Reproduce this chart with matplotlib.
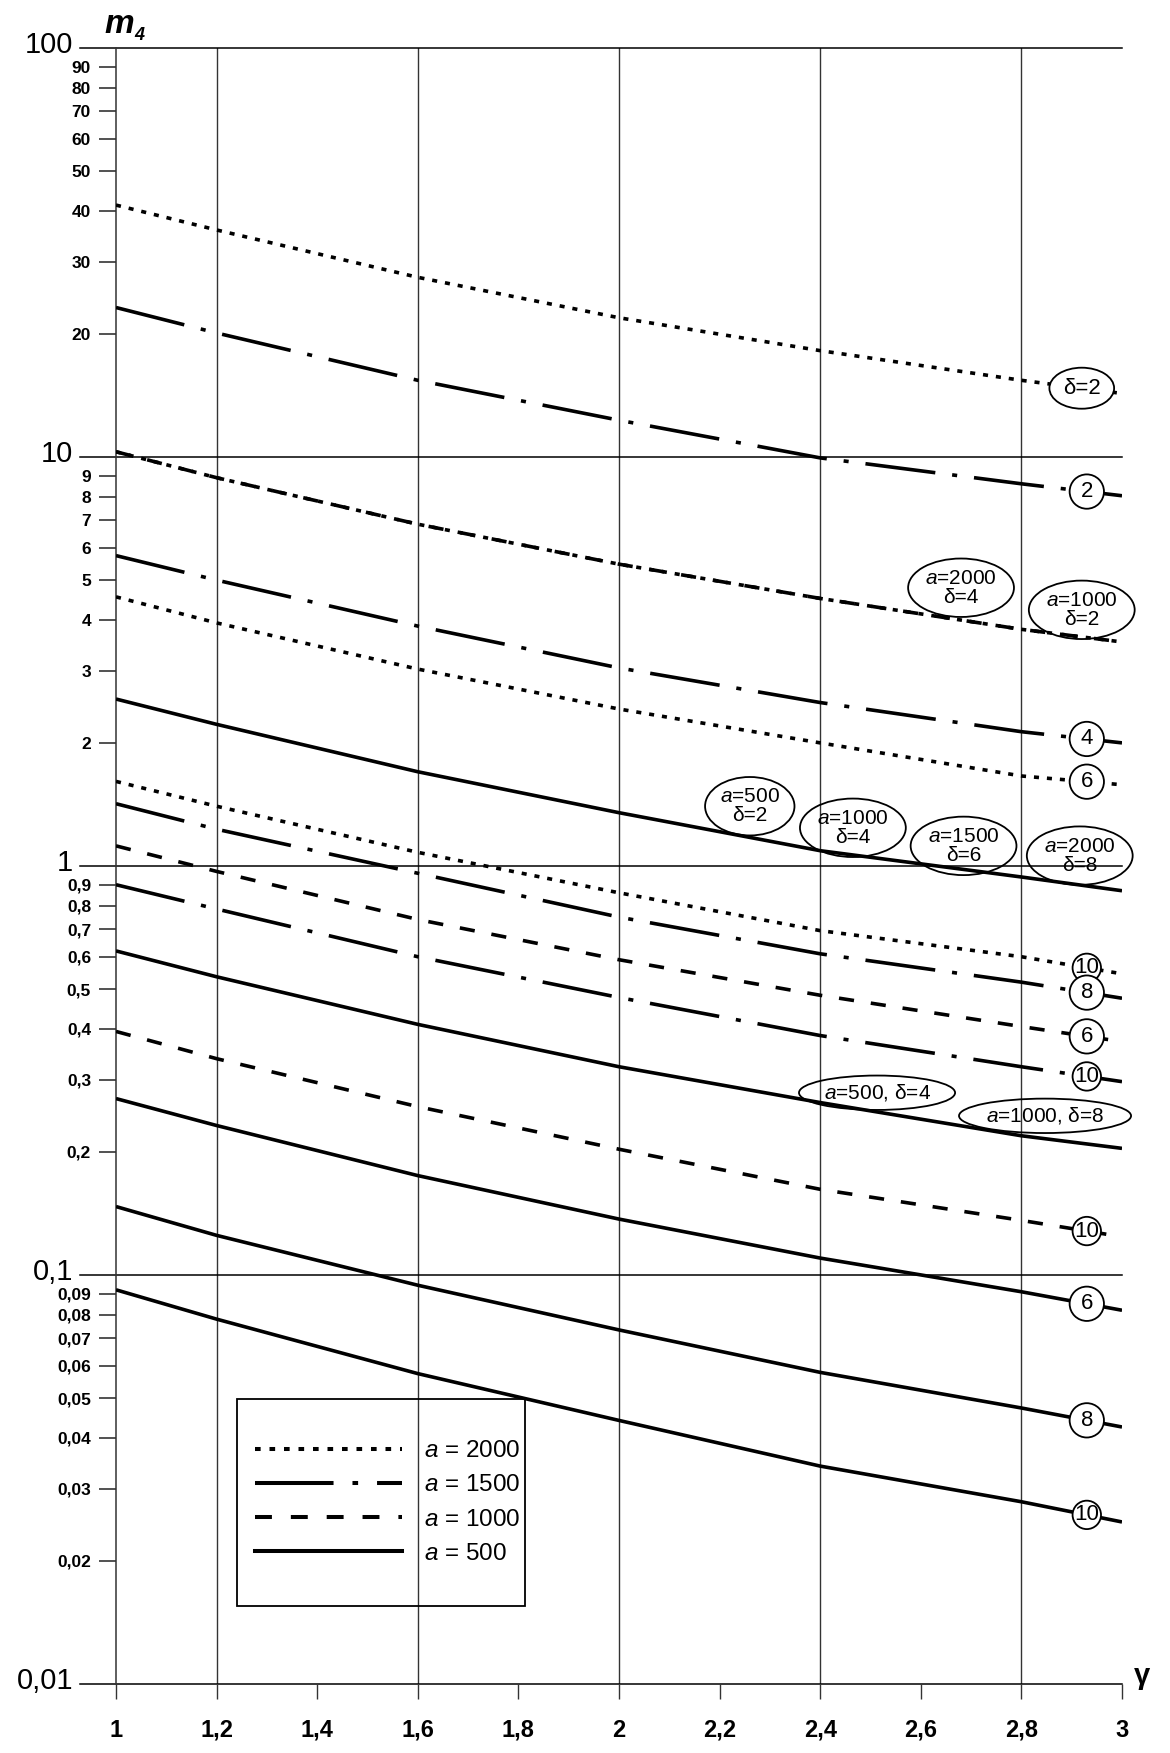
import numpy as np
import matplotlib
matplotlib.use("Agg")
import matplotlib.pyplot as plt
import matplotlib.transforms as mtransforms
from matplotlib.lines import Line2D
from matplotlib.patches import Rectangle
from matplotlib.ticker import FixedLocator, FixedFormatter

plt.rcParams['font.family'] = ['Liberation Sans', 'DejaVu Sans']
plt.rcParams['mathtext.fontset'] = 'custom'
plt.rcParams['mathtext.rm'] = 'Liberation Sans'
plt.rcParams['mathtext.it'] = 'Liberation Sans:italic'
plt.rcParams['mathtext.bf'] = 'Liberation Sans:bold'

# gamma values where the curves were read
gamma = [1.0, 1.2, 1.6, 2.0, 2.4, 2.8, 3.0]

# m4 values
m4_a2000_d2 = [41.3, 35.9, 27.5, 21.9, 18.2, 15.4, 14.3]
m4_a1500_d2 = [23.2, 20.1, 15.4, 12.3, 9.95, 8.6, 8.04]
m4_a2000_d4 = [10.3, 8.9, 6.85, 5.47, 4.51, 3.79, 3.53]      # same curve as a=1000, d=2
m4_a1500_d4 = [5.74, 5.0, 3.86, 3.05, 2.51, 2.13, 2.0]
m4_a2000_d6 = [4.55, 3.93, 3.03, 2.42, 2.0, 1.66, 1.58]
m4_a500_d2 = [2.56, 2.22, 1.70, 1.35, 1.09, 0.94, 0.87]      # = a1000 d4 = a1500 d6 = a2000 d8
m4_a2000_d10 = [1.61, 1.40, 1.08, 0.86, 0.695, 0.60, 0.545]
m4_a1500_d8 = [1.42, 1.23, 0.96, 0.75, 0.61, 0.52, 0.475]
m4_a1000_d6 = [1.12, 0.97, 0.74, 0.59, 0.483, 0.405, 0.372]
m4_a1500_d10 = [0.90, 0.785, 0.60, 0.477, 0.385, 0.323, 0.297]
m4_a500_d4 = [0.62, 0.536, 0.41, 0.323, 0.264, 0.219, 0.204]  # = a1000 d8
m4_a1000_d10 = [0.394, 0.338, 0.258, 0.203, 0.162, 0.136, 0.124]
m4_a500_d6 = [0.27, 0.232, 0.175, 0.137, 0.11, 0.091, 0.082]
m4_a500_d8 = [0.147, 0.125, 0.0944, 0.0734, 0.0578, 0.0473, 0.0425]
m4_a500_d10 = [0.092, 0.078, 0.0574, 0.0441, 0.0341, 0.0279, 0.0249]

x_ticks = [1.0, 1.2, 1.4, 1.6, 1.8, 2.0, 2.2, 2.4, 2.6, 2.8, 3.0]
x_labels = ['1', '1,2', '1,4', '1,6', '1,8', '2', '2,2', '2,4', '2,6', '2,8', '3']
x_grid = [1.2, 1.6, 2.0, 2.4, 2.8]
decades = [0.01, 0.1, 1, 10, 100]
decade_labels = ['0,01', '0,1', '1', '10', '100']
minor_vals = [k * d for d in [0.01, 0.1, 1, 10] for k in range(2, 10)]
minor_labels = ['0,0%d' % k for k in range(2, 10)] + ['0,%d' % k for k in range(2, 10)] + \
               ['%d' % k for k in range(2, 10)] + ['%d' % (10 * k) for k in range(2, 10)]

a_values = [2000, 1500, 1000, 500]

# line style per a
LW = 2.6
styles = {
    2000: (0, (1.4, 2.2)),
    1500: (0, (19.5, 4.7, 1.4, 4.7)),
    1000: (0, (4.2, 4.7)),
    500: '-',
}

# curves: data, list of a values drawn on it
curves = [
    (m4_a2000_d2, [2000]),
    (m4_a1500_d2, [1500]),
    (m4_a2000_d4, [2000, 1000]),
    (m4_a1500_d4, [1500]),
    (m4_a2000_d6, [2000]),
    (m4_a500_d2, [500]),
    (m4_a2000_d10, [2000]),
    (m4_a1500_d8, [1500]),
    (m4_a1000_d6, [1000]),
    (m4_a1500_d10, [1500]),
    (m4_a500_d4, [500]),
    (m4_a1000_d10, [1000]),
    (m4_a500_d6, [500]),
    (m4_a500_d8, [500]),
    (m4_a500_d10, [500]),
]

fig = plt.figure(figsize=(11.7, 17.53), dpi=100)
ax = fig.add_axes([116 / 1170, 69 / 1753, 1006 / 1170, 1636 / 1753])
ax.set_yscale('log')
ax.set_xlim(1, 3)
ax.set_ylim(0.01, 100)

for data, avals in curves:
    for a in avals:
        ax.plot(gamma, data, color='black', lw=LW, linestyle=styles[a],
                dash_capstyle='butt', solid_capstyle='butt', zorder=3)

# vertical grid lines and decade lines
for xg in x_grid:
    ax.axvline(xg, color='#333333', lw=1.0, zorder=1)
for d in decades:
    ax.axhline(d, xmin=-0.036, xmax=1, color='black', lw=1.1, clip_on=False, zorder=1)

for s in ['top', 'right', 'bottom']:
    ax.spines[s].set_visible(False)
ax.spines['left'].set_linewidth(1.1)
ax.spines['left'].set_color('#333333')

ax.xaxis.set_major_locator(FixedLocator(x_ticks))
ax.xaxis.set_major_formatter(FixedFormatter(x_labels))
ax.xaxis.set_minor_locator(FixedLocator([]))
ax.tick_params(axis='x', which='major', direction='out', length=11, width=1.0,
               color='#333333', labelsize=17, pad=14)
for lab in ax.get_xticklabels():
    lab.set_fontweight('bold')

ax.yaxis.set_major_locator(FixedLocator(decades))
ax.yaxis.set_major_formatter(FixedFormatter(decade_labels))
ax.yaxis.set_minor_locator(FixedLocator(minor_vals))
ax.yaxis.set_minor_formatter(FixedFormatter(minor_labels))
ax.tick_params(axis='y', which='major', length=0, labelsize=21, pad=31)
ax.tick_params(axis='y', which='minor', direction='out', length=12, width=1.2,
               color='#333333', labelsize=12.5, pad=6)
for lab in ax.get_yticklabels(minor=True):
    lab.set_fontweight('bold')
# lift decade labels a little so they clear the small labels below them
lift = mtransforms.ScaledTranslation(0, 6 / 100, fig.dpi_scale_trans)
for lab in ax.get_yticklabels():
    lab.set_transform(lab.get_transform() + lift)


def value_at(data, g):
    return 10 ** np.interp(g, gamma, np.log10(data))


# circled delta labels at the right end of the curves
circle_labels = [
    (m4_a1500_d2, '2'),
    (m4_a1500_d4, '4'),
    (m4_a2000_d6, '6'),
    (m4_a2000_d10, '10'),
    (m4_a1500_d8, '8'),
    (m4_a1000_d6, '6'),
    (m4_a1500_d10, '10'),
    (m4_a1000_d10, '10'),
    (m4_a500_d6, '6'),
    (m4_a500_d8, '8'),
    (m4_a500_d10, '10'),
]
for data, txt in circle_labels:
    pad = 0.3 if len(txt) == 1 else 0.08
    ax.text(2.93, value_at(data, 2.93), txt, ha='center', va='center', fontsize=16,
            zorder=5, bbox=dict(boxstyle='circle,pad=%g' % pad, fc='white', ec='black', lw=1.3))

ax.text(2.92, value_at(m4_a2000_d2, 2.92), 'δ=2', ha='center', va='center', fontsize=16,
        zorder=5, bbox=dict(boxstyle='ellipse,pad=0.18', fc='white', ec='black', lw=1.3))

# callouts for coincident curves
callouts = [
    ('$a$=2000\nδ=4', 2.68, 4.79),
    ('$a$=1000\nδ=2', 2.92, 4.23),
    ('$a$=500\nδ=2', 2.26, 1.40),
    ('$a$=1000\nδ=4', 2.465, 1.24),
    ('$a$=1500\nδ=6', 2.685, 1.12),
    ('$a$=2000\nδ=8', 2.916, 1.06),
    ('$a$=500, δ=4', 2.513, 0.279),
    ('$a$=1000, δ=8', 2.847, 0.245),
]
for txt, gx, gy in callouts:
    ax.text(gx, gy, txt, ha='center', va='center', fontsize=15, linespacing=1.0,
            zorder=6, bbox=dict(boxstyle='ellipse,pad=0.08', fc='none', ec='black', lw=1.3))

# legend
handles = [Line2D([], [], color='black', lw=LW + 0.3, linestyle=styles[a], dash_capstyle='butt')
           for a in a_values]
labels = ['$a$ = %d' % a for a in a_values]
ax.legend(handles, labels, loc='upper left', bbox_to_anchor=(0.138, 0.149),
          frameon=False, fontsize=17.5, handlelength=6.05, handletextpad=0.9,
          labelspacing=0.5, borderpad=0, borderaxespad=0)
ax.add_patch(Rectangle((0.1203, 0.0477), 0.4066 - 0.1203, 0.1742 - 0.0477,
                       transform=ax.transAxes, fill=False, ec='black', lw=1.3, zorder=4))

# axis titles
fig.text(104 / 1170, 1 - 33 / 1753, 'm', fontsize=24, fontweight='bold', fontstyle='italic',
         va='baseline')
fig.text(134 / 1170, 1 - 40 / 1753, '4', fontsize=13, fontweight='bold', fontstyle='italic',
         va='baseline')
fig.text(1142 / 1170, 1 - 1676 / 1753, 'γ', fontsize=21, fontweight='bold',
         ha='center', va='center')

fig.savefig('out.png', dpi=100, facecolor='white')
